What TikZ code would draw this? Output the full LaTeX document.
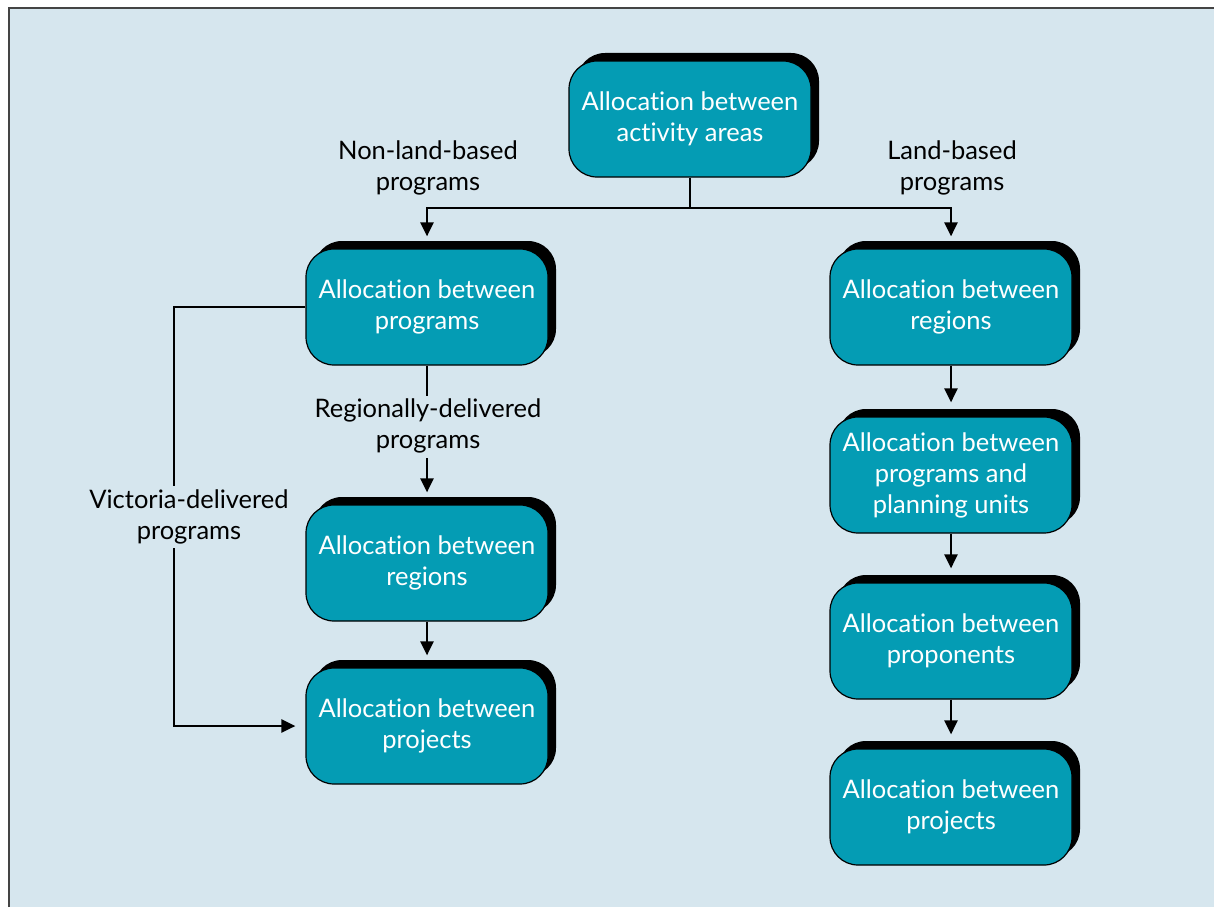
\documentclass[tikz,border=0pt]{standalone}
\usepackage{fontspec}
\setmainfont{Lato}[Ligatures={NoCommon,NoRare,NoDiscretionary}]
\usetikzlibrary{arrows.meta,shadows,calc}
\definecolor{panel}{HTML}{D6E6EE}
\definecolor{boxfill}{HTML}{049CB4}
\definecolor{framec}{HTML}{444444}
\tikzset{
  alloc/.style={rectangle, rounded corners=28pt, minimum width=242pt, minimum height=116pt,
    fill=boxfill, draw=black, line width=1.2pt, text=white, align=center,
    font=\fontsize{25.5}{31}\selectfont, inner sep=0pt,
    general shadow={fill=black, shadow xshift=8pt, shadow yshift=8pt}},
  lbl/.style={align=center, font=\fontsize{25.5}{31}\selectfont, inner sep=0pt},
  link/.style={line width=2.5pt},
  arr/.style={line width=2.5pt, -{Triangle[length=14pt,width=13pt]}}
}
\begin{document}
\begin{tikzpicture}[x=1pt,y=-1pt]
  \useasboundingbox (0,0) rectangle (1214,907);
  % panel with frame on the top and left edges
  \fill[panel] (9,8) rectangle (1214,907);
  \draw[framec, line width=2pt] (9,907) -- (9,8) -- (1214,8);

  % boxes
  \node[alloc] (top) at (690,119) {Allocation between\\activity areas};
  \node[alloc] (lprog) at (427,307) {Allocation between\\programs};
  \node[alloc] (lreg)  at (427,563) {Allocation between\\regions};
  \node[alloc] (lproj) at (427,726) {Allocation between\\projects};
  \node[alloc] (rreg)  at (951,307) {Allocation between\\regions};
  \node[alloc] (rplan) at (951,475) {Allocation between\\programs and\\planning units};
  \node[alloc] (rprop) at (951,641) {Allocation between\\proponents};
  \node[alloc] (rproj) at (951,807) {Allocation between\\projects};

  % labels
  \node[lbl] (nonland) at (428,168) {Non-land-based\\programs};
  \node[lbl] (land) at (952,168) {Land-based\\programs};
  \node[lbl] (regdel) at (428,426) {Regionally-delivered\\programs};
  \node[lbl] (vicdel) at (189,517) {Victoria-delivered\\programs};

  % split from the top box
  \coordinate (split) at (690,208);
  \draw[link] (top.south) -- (split);
  \draw[arr] (split) -| ([yshift=12pt]lprog.north);
  \draw[arr] (split) -| ([yshift=12pt]rreg.north);

  % left column
  \coordinate (rdtop) at (427,396);
  \coordinate (rdbot) at (427,458);
  \draw[link] (lprog.south) -- (rdtop);
  \draw[arr] (rdbot) -- ([yshift=12pt]lreg.north);
  \draw[arr] (lreg.south) -- ([yshift=12pt]lproj.north);

  % Victoria-delivered bypass
  \coordinate (vtop) at (174,486);
  \coordinate (vbot) at (174,548);
  \draw[link] (lprog.west) -| (vtop);
  \draw[arr] (vbot) |- ([xshift=-10pt]lproj.west);

  % right column
  \draw[arr] (rreg.south) -- ([yshift=14pt]rplan.north);
  \draw[arr] (rplan.south) -- ([yshift=14pt]rprop.north);
  \draw[arr] (rprop.south) -- ([yshift=14pt]rproj.north);
\end{tikzpicture}
\end{document}
